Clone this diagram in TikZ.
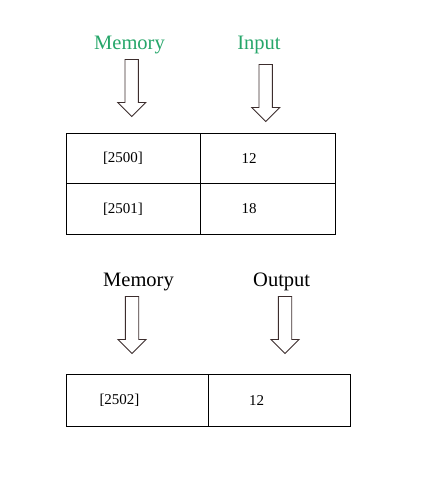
\documentclass[tikz,border=0pt]{standalone}
\usepackage{fontspec}
\setmainfont{Liberation Serif}
\definecolor{labgreen}{RGB}{38,166,106}
\definecolor{arrowcol}{RGB}{60,45,45}
\tikzset{
  cell/.style={draw=black, line width=0.9pt, inner sep=0pt, outer sep=0pt, anchor=north west},
  celltext/.style={font=\fontsize{15}{17}\selectfont, inner sep=0pt},
  headlabel/.style={font=\fontsize{20.5}{24}\selectfont, inner sep=0pt},
  arrowline/.style={draw=arrowcol, line width=0.9pt, fill=white},
  pics/blockarrow/.style={code={
    \draw[arrowline] (-6.7,0) -- (-6.7,43) -- (-14,43) -- (0,57) -- (14,43)
      -- (6.7,43) -- (6.7,0) -- cycle;
  }}
}
\begin{document}
\begin{tikzpicture}[x=1pt,y=-1pt]
\useasboundingbox (0,0) rectangle (443,499);
% top labels
\node[headlabel, text=labgreen] (memA) at (129.5,44.5) {Memory};
\node[headlabel, text=labgreen] (inp) at (259,44.5) {Input};
\pic at (131.7,59.5) {blockarrow};
\pic at (265.7,64.5) {blockarrow};
% top table
\node[cell, minimum width=133.8pt, minimum height=50pt] (t11) at (66.5,133.3) {};
\node[cell, minimum width=135.2pt, minimum height=50pt] (t12) at (200.3,133.3) {};
\node[cell, minimum width=133.8pt, minimum height=50.7pt] (t21) at (66.5,183.3) {};
\node[cell, minimum width=135.2pt, minimum height=50.7pt] (t22) at (200.3,183.3) {};
\node[celltext] (a1) at (123,158.5) {[2500]};
\node[celltext] (v1) at (249,158.5) {12};
\node[celltext] (a2) at (123,209) {[2501]};
\node[celltext] (v2) at (249,209) {18};
% bottom labels
\node[headlabel] (memB) at (138.5,281.5) {Memory};
\node[headlabel] (outp) at (281.7,281.5) {Output};
\pic at (132,296.5) {blockarrow};
\pic at (285,296.5) {blockarrow};
% bottom table
\node[cell, minimum width=141.8pt, minimum height=51.6pt] (b1) at (66.5,374.7) {};
\node[cell, minimum width=142.4pt, minimum height=51.6pt] (b2) at (208.3,374.7) {};
\node[celltext] (a3) at (119.5,400.5) {[2502]};
\node[celltext] (v3) at (256.7,400.5) {12};
\end{tikzpicture}
\end{document}
